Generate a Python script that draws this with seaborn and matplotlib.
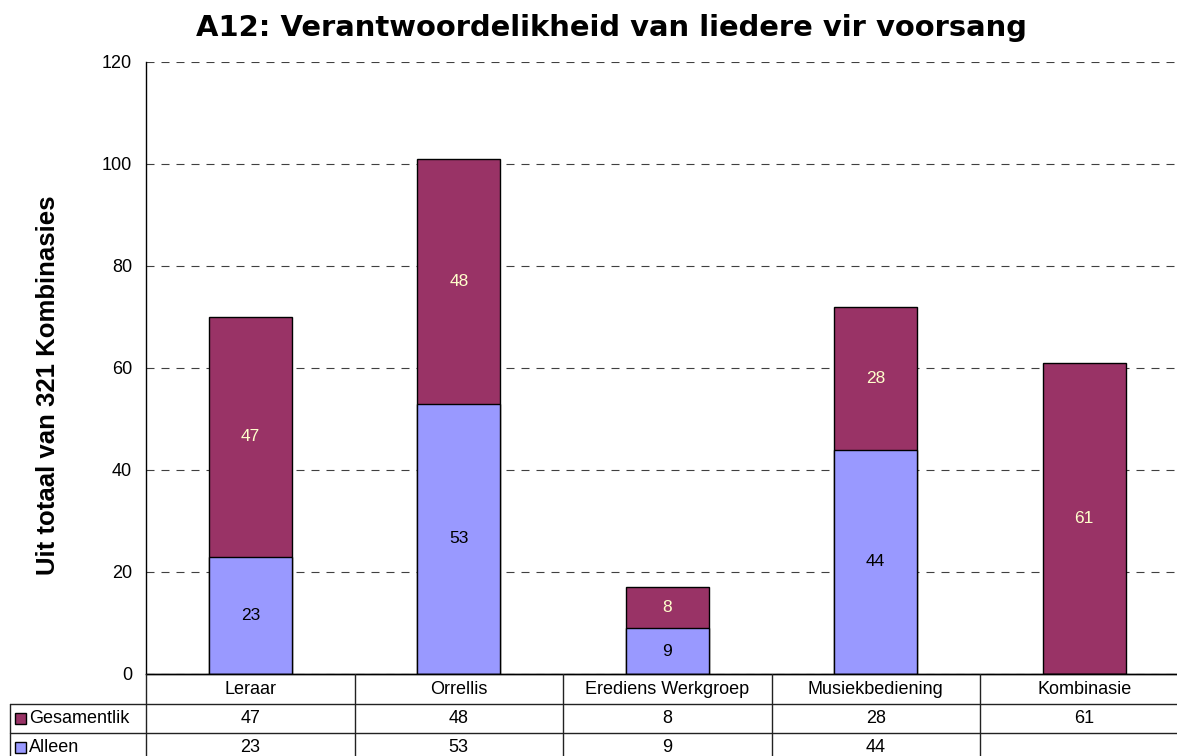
import numpy as np
import matplotlib
matplotlib.use('Agg')
import matplotlib.pyplot as plt
from matplotlib.patches import Rectangle
import seaborn as sns

# Data
categories = ['Leraar', 'Orrellis', 'Erediens Werkgroep', 'Musiekbediening', 'Kombinasie']
gesamentlik = [47, 48, 8, 28, 61]
alleen = [23, 53, 9, 44, 0]
series_names = ['Gesamentlik', 'Alleen']

purple = '#993366'
blue = '#9999FF'

sns.set_style('white')
plt.rcParams['font.family'] = ['Liberation Sans', 'DejaVu Sans']
plt.rcParams['text.color'] = 'black'
plt.rcParams['axes.labelcolor'] = 'black'
plt.rcParams['ytick.color'] = 'black'

W, H = 1177, 756
col_w = 208.5  # the plot area runs a little past the right edge, like the original
fig = plt.figure(figsize=(W / 100, H / 100), dpi=100)
ax = fig.add_axes([146 / W, 82 / H, 5 * col_w / W, 612 / H])

totals = [g + a for g, a in zip(gesamentlik, alleen)]

# stacked bars: full height in purple, then the "alleen" part over it
sns.barplot(x=categories, y=totals, color=purple, saturation=1, width=0.40,
            edgecolor='black', linewidth=1, ax=ax)
sns.barplot(x=categories, y=alleen, color=blue, saturation=1, width=0.40,
            edgecolor='black', linewidth=1, ax=ax)

for i, (g, a) in enumerate(zip(gesamentlik, alleen)):
    if a > 0:
        ax.text(i, a / 2, str(a), ha='center', va='center', fontsize=12.5, color='black')
    ax.text(i, a + g / 2, str(g), ha='center', va='center', fontsize=12.5, color='#FFFFCC')

ax.set_xlim(-0.5, len(categories) - 0.5)
ax.set_ylim(0, 120)
ax.set_yticks(np.arange(0, 121, 20))
ax.tick_params(axis='y', labelsize=13, length=6, width=1, direction='out', colors='black', pad=4)
ax.tick_params(axis='x', bottom=False, labelbottom=False)
ax.set_xlabel('')
ax.set_ylabel('Uit totaal van 321 Kombinasies', fontsize=18.5, fontweight='bold')
ax.yaxis.set_label_coords((60 - 146) / (5 * col_w), 0.472)
ax.set_axisbelow(True)
ax.yaxis.grid(True, linestyle=(0, (7.2, 6.3)), color='#404040', linewidth=0.8)
ax.xaxis.grid(False)
for s in ['top', 'right']:
    ax.spines[s].set_visible(False)
for s in ['left', 'bottom']:
    ax.spines[s].set_color('black')
    ax.spines[s].set_linewidth(1)

fig.text(611 / W, 1 - 28 / H, 'A12: Verantwoordelikheid van liedere vir voorsang',
         ha='center', va='center', fontsize=20.9, fontweight='bold',
         family='DejaVu Sans', color='black')

# data table below the chart, in pixel units
tax = fig.add_axes([0, 0, 1, 82 / H])
tax.set_xlim(0, W)
tax.set_ylim(82, 0)
tax.axis('off')
n = len(categories)
left = 146
edges = [left + col_w * k for k in range(n + 1)]
centers = [(edges[k] + edges[k + 1]) / 2 for k in range(n)]
right = edges[-1]
row_y = [0, 30, 59, 88]
lc = '#222222'
tax.plot([left, right], [row_y[0], row_y[0]], color='black', lw=1, clip_on=False)
tax.plot([10, right], [row_y[1], row_y[1]], color=lc, lw=1, clip_on=False)
tax.plot([10, right], [row_y[2], row_y[2]], color=lc, lw=1, clip_on=False)
for e in edges:
    tax.plot([e, e], [0, 88], color=lc, lw=1)
tax.plot([10, 10], [row_y[1], 88], color=lc, lw=1)

for c, name in zip(centers, categories):
    tax.text(c, 15, name, ha='center', va='center', fontsize=13)

rows = [(series_names[0], purple, gesamentlik), (series_names[1], blue, alleen)]
for r, (name, col, vals) in enumerate(rows):
    yc = (row_y[r + 1] + row_y[r + 2]) / 2
    tax.add_patch(Rectangle((15, yc - 5.5), 11, 11, facecolor=col, edgecolor='black', lw=1))
    tax.text(29, yc, name, ha='left', va='center', fontsize=13)
    for c, v in zip(centers, vals):
        if v > 0:
            tax.text(c, yc, str(v), ha='center', va='center', fontsize=13)

fig.savefig('out.png', dpi=100)
